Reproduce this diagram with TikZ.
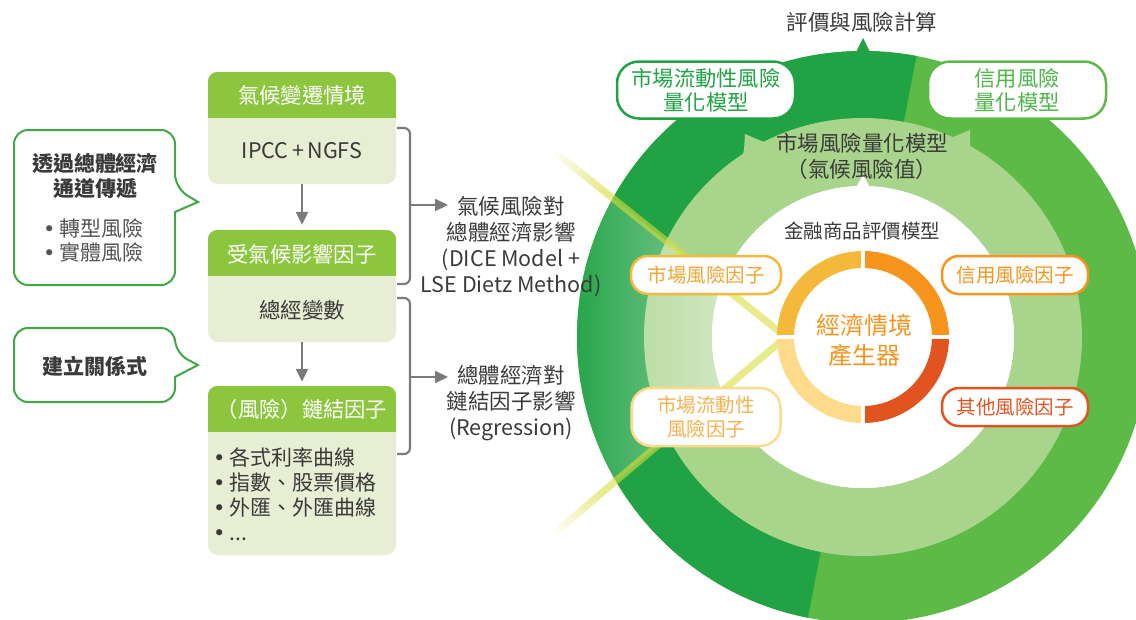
\documentclass[tikz,border=0pt]{standalone}
\usepackage{fontspec}
\setmainfont{Noto Sans CJK TC}
\newfontfamily\dejavu{DejaVu Sans}
\usetikzlibrary{arrows.meta,calc,fadings}
\definecolor{dkg}{HTML}{21A345}
\definecolor{ltg}{HTML}{5DBA47}
\definecolor{rng}{HTML}{A9D48B}
\definecolor{headc}{HTML}{8CC63F}
\definecolor{bodyc}{HTML}{E7EED3}
\definecolor{callc}{HTML}{3FA845}
\definecolor{txtc}{HTML}{3A3A3A}
\definecolor{gtxt}{HTML}{555555}
\definecolor{arrc}{HTML}{7A7A7A}
\definecolor{oA}{HTML}{F4B93A}
\definecolor{oB}{HTML}{F7941E}
\definecolor{oC}{HTML}{E1541F}
\definecolor{oD}{HTML}{FDDB8A}
\definecolor{oAt}{HTML}{F2A531}
\definecolor{oDt}{HTML}{F5B24E}
\definecolor{beamc}{RGB}{216,222,59}
\definecolor{ltgt}{HTML}{4DB748}
\tikzfading[name=fadeR, left color=transparent!100, middle color=transparent!0, right color=transparent!0]
\newcommand{\bul}{{\dejavu •}\hspace{4pt}}
\begin{document}
\begin{tikzpicture}[x=1pt,y=-1pt,
  ct/.style={text=txtc, inner sep=0pt, align=center, font=\fontsize{21.5}{26}\selectfont},
  bt/.style={text=txtc, inner sep=0pt, anchor=west, font=\fontsize{21}{26}\selectfont},
  cb/.style={text=txtc, inner sep=0pt, align=center, font=\fontsize{21}{25}\selectfont\bfseries},
  ht/.style={text=white, inner sep=0pt, font=\fontsize{21.3}{24}\selectfont},
  boxn/.style={fill=bodyc, rounded corners=10pt, minimum width=188pt, inner sep=0pt},
  garrow/.style={draw=arrc, line width=2.2pt, -{Triangle[length=13pt,width=12pt]}},
  brace/.style={draw=arrc, line width=2.2pt, rounded corners=6pt},
  callout/.style={draw=callc, line width=2pt, fill=white},
  pill/.style={draw, fill=white, rounded corners=17pt, line width=2.5pt, inner sep=0pt,
    align=center, minimum height=38pt, font=\fontsize{19.5}{24}\selectfont},
  tpill/.style={draw, fill=white, rounded corners=22pt, line width=2.5pt, inner sep=0pt,
    align=center, minimum width=178pt, minimum height=57pt, font=\fontsize{21.3}{24}\selectfont},
  beam/.style={draw=beamc, line width=7pt, opacity=0.6}
]
\useasboundingbox (0,0) rectangle (1136,619);
\clip (0,0) rectangle (1136,619);

% ---------------- right: rings ----------------
\coordinate (C) at (863,337);
\fill[ltg, even odd rule] (C) circle[radius=286pt] (C) circle[radius=218pt];
\begin{scope}
  \clip (937,-50) -- (792,700) -- (400,700) -- (400,-50) -- cycle;
  \fill[dkg, even odd rule] (C) circle[radius=286pt] (C) circle[radius=218pt];
\end{scope}
\fill[dkg] (855,54) -- (863,38) -- (871,54) -- cycle;

\fill[rng, even odd rule] (C) circle[radius=219pt] (C) circle[radius=151pt];
\fill[rng] (745,134) -- (764,142) -- (770,160) -- (740,165) -- (744,150) -- cycle;
\fill[rng] (953,137) -- (970,130) -- (970,146) -- (975,165) -- (950,160) -- cycle;

\fill[white] (C) circle[radius=151pt];
\fill[white] (855,189) -- (863,175) -- (871,189) -- cycle;

% light wedge
\begin{scope}
  \clip (786,337) -- (555,152) -- (555,533) -- cycle;
  \fill[white, opacity=0.5, path fading=fadeR] (566,0) rectangle (734,619);
\end{scope}

% beam
\coordinate (T) at (786,337);
\coordinate (U) at (555,152);
\coordinate (U1) at (605,192);
\coordinate (L) at (555,533);
\coordinate (L1) at (605,490);
\draw[beam, line join=round] (U1) -- (T) -- (L1);
\foreach \i in {0,...,9}{
  \pgfmathsetmacro{\op}{0.06*(\i+1)}
  \draw[draw=beamc, line width=7pt, opacity=\op] ($(U)!\i/10!(U1)$) -- ($(U)!\i/10+0.1!(U1)$);
  \draw[draw=beamc, line width=7pt, opacity=\op] ($(L)!\i/10!(L1)$) -- ($(L)!\i/10+0.1!(L1)$);
}

% donut
\foreach \a/\b/\c in {90/180/oA, 0/90/oB, 270/360/oC, 180/270/oD}{
  \fill[\c] ($(C)+(\a:86pt)$) arc[start angle=\a, end angle=\b, radius=86pt]
    -- ($(C)+(\b:69pt)$) arc[start angle=\b, end angle=\a, radius=69pt] -- cycle;
}
\draw[white, line width=4pt] (770,337) -- (956,337);
\draw[white, line width=4pt] (863,244) -- (863,430);

\node[inner sep=0pt, align=center, text=oB, font=\fontsize{24}{30}\selectfont] (gen) at (864,340) {經濟情境\\產生器};
\node[ct, font=\fontsize{19.5}{24}\selectfont, text=txtc] (fin) at (862,231) {金融商品評價模型};
\node[ct] (mrq) at (862,156) {市場風險量化模型\\（氣候風險值）};
\node[ct] (title) at (862,22) {評價與風險計算};

\node[tpill, draw=dkg, text=dkg] (p1) at (706,90) {市場流動性風險\\量化模型};
\node[tpill, draw=ltg, text=ltgt] (p2) at (1017,90) {信用風險\\量化模型};

\node[pill, draw=oA, text=oAt, minimum width=150pt] (fA) at (706,275) {市場風險因子};
\node[pill, draw=oD, text=oDt, minimum width=149pt, minimum height=58pt, rounded corners=20pt] (fD) at (706,417) {市場流動性\\風險因子};
\node[pill, draw=oB, text=oB, minimum width=146pt] (fB) at (1015,275) {信用風險因子};
\node[pill, draw=oC, text=oC, minimum width=146pt] (fC) at (1015,407) {其他風險因子};

% ---------------- left: boxes ----------------
\node[boxn, minimum height=112pt] (B1) at (302,128) {};
\node[boxn, minimum height=112pt] (B2) at (302,286) {};
\node[boxn, minimum height=169pt] (B3) at (302,470.5) {};
\foreach \b in {B1,B2,B3}{
  \begin{scope}
    \clip[rounded corners=10pt] (\b.north west) rectangle (\b.south east);
    \fill[headc] (\b.north west) rectangle ($(\b.north east)+(0,46)$);
  \end{scope}
}
\node[ht] (h1) at (302,95) {氣候變遷情境};
\node[ht] (h2) at (302,254) {受氣候影響因子};
\node[ht] (h3) at (302,409) {（風險）鏈結因子};
\node[ct] (t1) at (302,151) {IPCC\,+\,NGFS};
\node[ct] (t2) at (302,310) {總經變數};
\node[bt] (l1) at (213,457) {\bul 各式利率曲線};
\node[bt] (l2) at (213,483) {\bul 指數、股票價格};
\node[bt] (l3) at (213,508) {\bul 外匯、外匯曲線};
\node[bt] (l4) at (213,535) {\bul ...};

\draw[garrow, shorten >=5pt] (B1.south) -- (B2.north);
\draw[garrow, shorten >=4pt] (B2.south) -- (B3.north);

% brackets
\draw[brace] (397,128) -- (410,128) -- (410,284) -- (397,284);
\draw[brace] (397,298) -- (410,298) -- (410,454) -- (397,454);
\coordinate (k1) at (409,205);
\coordinate (a1) at (448,205);
\coordinate (k2) at (409,377);
\coordinate (a2) at (448,377);
\draw[garrow] (k1) -- (a1);
\draw[garrow] (k2) -- (a2);
\node[ct] (T1) at (511,246) {氣候風險對\\總體經濟影響\\(DICE Model +\\LSE Dietz Method)};
\node[ct] (T2) at (511,403) {總體經濟對\\鏈結因子影響\\(Regression)};

% callouts
\draw[callout, rounded corners=14pt] (95,130) -- (175,130) -- (175,188) [sharp corners] -- (198,202) -- (175,212) [rounded corners=14pt] -- (175,285) -- (14,285) -- (14,130) -- cycle;
\node[cb] (c1) at (95,176) {透過總體經濟\\通道傳遞};
\node[bt, text=gtxt] (c1a) at (43,228) {\bul 轉型風險};
\node[bt, text=gtxt] (c1b) at (43,252) {\bul 實體風險};

\draw[callout, rounded corners=14pt] (95,328) -- (175,328) -- (175,353) [sharp corners] -- (198,365) -- (175,377) [rounded corners=14pt] -- (175,402) -- (14,402) -- (14,328) -- cycle;
\node[cb] (c2) at (95,366) {建立關係式};
\end{tikzpicture}
\end{document}
